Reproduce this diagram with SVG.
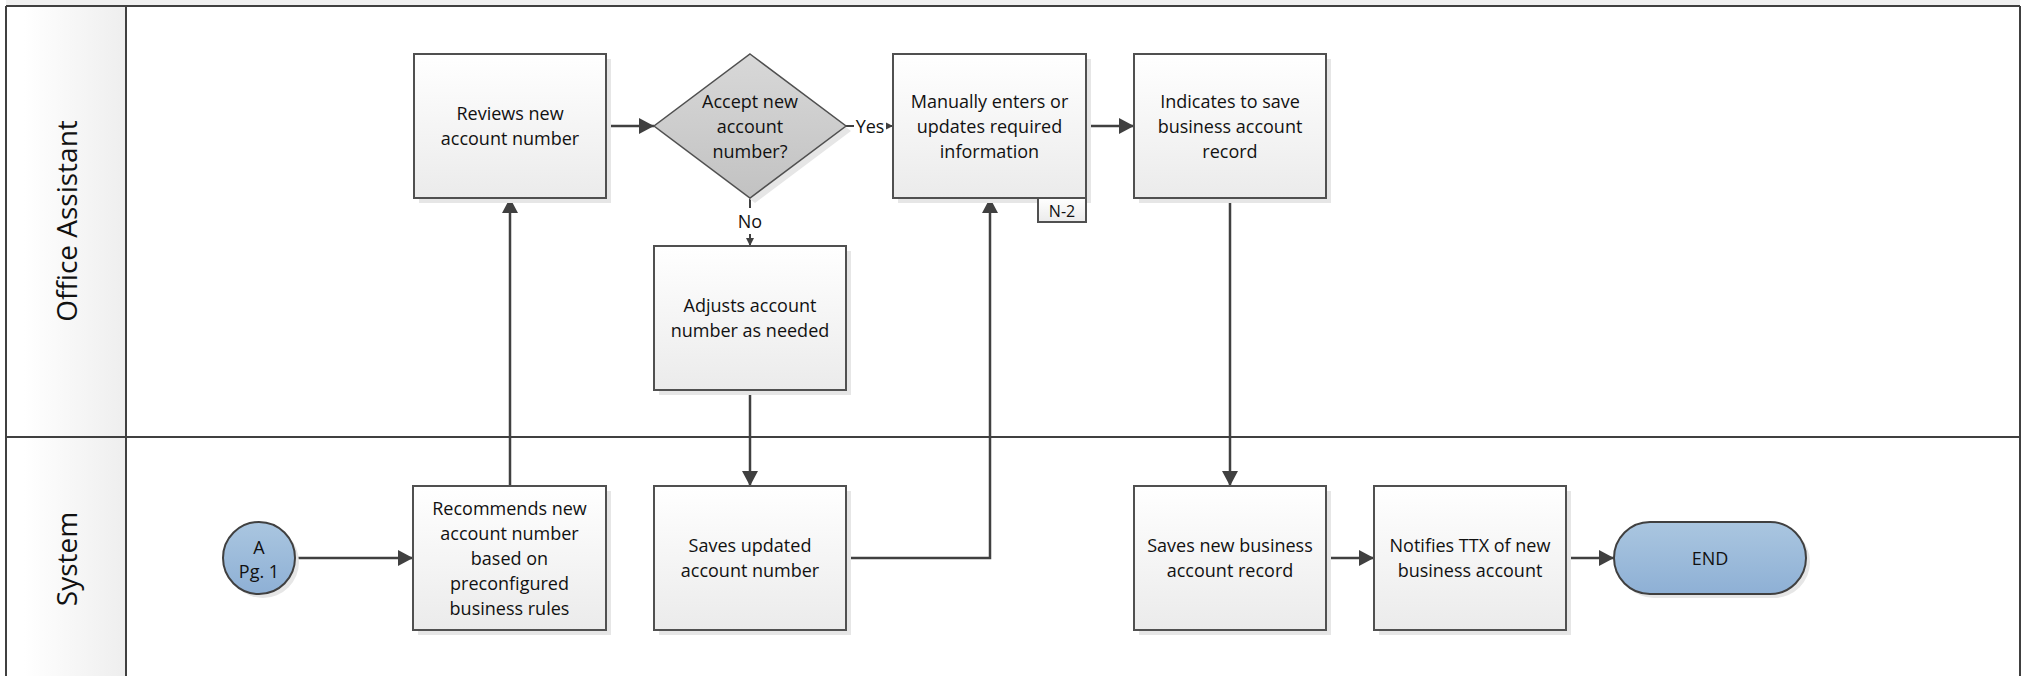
<svg xmlns="http://www.w3.org/2000/svg" width="2023" height="676" viewBox="0 0 2023 676">
<defs>
<linearGradient id="boxGrad" x1="0" y1="0" x2="0" y2="1"><stop offset="0" stop-color="#ffffff"/><stop offset="1" stop-color="#ebebeb"/></linearGradient>
<linearGradient id="diaGrad" x1="0" y1="0" x2="0" y2="1"><stop offset="0" stop-color="#d8d8d8"/><stop offset="1" stop-color="#c2c2c2"/></linearGradient>
<linearGradient id="blueGrad" x1="0" y1="0" x2="0" y2="1"><stop offset="0" stop-color="#aac6e0"/><stop offset="1" stop-color="#8eb0d5"/></linearGradient>
<linearGradient id="laneGrad" x1="0" y1="0" x2="1" y2="0"><stop offset="0.15" stop-color="#ffffff"/><stop offset="1" stop-color="#eeeeee"/></linearGradient>
<marker id="arr" markerUnits="userSpaceOnUse" markerWidth="16" markerHeight="18" refX="15" refY="8" orient="auto"><path d="M0,0 L15,8 L0,16 z" fill="#404040"/></marker>
<marker id="arrS" markerUnits="userSpaceOnUse" markerWidth="9" markerHeight="9" refX="8" refY="4" orient="auto"><path d="M0,0 L8,4 L0,8 z" fill="#404040"/></marker>
</defs>
<style>
.box{fill:url(#boxGrad);stroke:#505050;stroke-width:2}
.sh{fill:#e6e6e6}
.dia{fill:url(#diaGrad);stroke:#505050;stroke-width:1.5}
.blue{fill:url(#blueGrad);stroke:#404040;stroke-width:2}
.t{font-family:"Open Sans","Noto Sans",sans-serif;font-size:18px;fill:#111;text-anchor:middle}
.lane{font-family:"Open Sans","Noto Sans",sans-serif;font-size:28px;fill:#111;text-anchor:middle}
.border{fill:none;stroke:#404040;stroke-width:2}
.c{fill:none;stroke:#404040;stroke-width:2.5}
.cs{fill:none;stroke:#404040;stroke-width:2}
</style>
<rect x="0" y="0" width="2023" height="676" fill="#ffffff"/>
<g id="pool">
<rect x="6" y="0" width="2014" height="6" fill="#f0f0f0"/>
<rect x="6" y="6" width="120" height="680" fill="url(#laneGrad)"/>
<line x1="6" y1="6" x2="2020" y2="6" class="border"/>
<line x1="6" y1="6" x2="6" y2="680" class="border"/>
<line x1="2020" y1="6" x2="2020" y2="680" class="border"/>
<line x1="126" y1="6" x2="126" y2="680" class="border"/>
<line x1="6" y1="437" x2="2020" y2="437" class="border"/>
</g>
<g id="lane-office-assistant"><text class="lane" transform="translate(77,221) rotate(-90)">Office Assistant</text></g>
<g id="lane-system"><text class="lane" transform="translate(77,559) rotate(-90)">System</text></g>

<g id="connectors">
<path class="c" d="M510,486 L510,198" marker-end="url(#arr)"/>
<path class="c" d="M606,126 L654,126" marker-end="url(#arr)"/>
<path class="cs" d="M846,126 L893,126" marker-end="url(#arrS)"/>
<path class="cs" d="M750,198 L750,246" marker-end="url(#arrS)"/>
<path class="c" d="M750,390 L750,486" marker-end="url(#arr)"/>
<path class="c" d="M846,558 L990,558 L990,198" marker-end="url(#arr)"/>
<path class="c" d="M1086,126 L1134,126" marker-end="url(#arr)"/>
<path class="c" d="M1230,198 L1230,486" marker-end="url(#arr)"/>
<path class="c" d="M295,558 L413,558" marker-end="url(#arr)"/>
<path class="c" d="M1326,558 L1374,558" marker-end="url(#arr)"/>
<path class="c" d="M1566,558 L1614,558" marker-end="url(#arr)"/>
<rect x="854" y="114" width="32" height="24" fill="#ffffff"/>
<text class="t" x="870" y="133">Yes</text>
<rect x="736" y="208" width="28" height="26" fill="#ffffff"/>
<text class="t" x="750" y="228">No</text>
</g>

<g id="n-reviews">
<rect class="sh" x="419" y="59" width="192" height="144"/>
<rect class="box" x="414" y="54" width="192" height="144"/>
<text class="t" x="510" y="120">Reviews new</text>
<text class="t" x="510" y="145">account number</text>
</g>
<g id="n-decision">
<polygon class="sh" points="755,59 851,131 755,203 659,131"/>
<polygon class="dia" points="750,54 846,126 750,198 654,126"/>
<text class="t" x="750" y="107.5">Accept new</text>
<text class="t" x="750" y="132.5">account</text>
<text class="t" x="750" y="157.5">number?</text>
</g>
<g id="n-manually">
<rect class="sh" x="898" y="59" width="193" height="144"/>
<rect class="box" x="893" y="54" width="193" height="144"/>
<text class="t" x="989.5" y="107.5">Manually enters or</text>
<text class="t" x="989.5" y="132.5">updates required</text>
<text class="t" x="989.5" y="157.5">information</text>
<rect class="box" x="1038" y="198" width="48" height="24"/>
<text class="t" x="1062" y="217" style="font-size:16px">N-2</text>
</g>
<g id="n-indicates">
<rect class="sh" x="1139" y="59" width="192" height="144"/>
<rect class="box" x="1134" y="54" width="192" height="144"/>
<text class="t" x="1230" y="107.5">Indicates to save</text>
<text class="t" x="1230" y="132.5">business account</text>
<text class="t" x="1230" y="157.5">record</text>
</g>
<g id="n-adjusts">
<rect class="sh" x="659" y="251" width="192" height="144"/>
<rect class="box" x="654" y="246" width="192" height="144"/>
<text class="t" x="750" y="312">Adjusts account</text>
<text class="t" x="750" y="337">number as needed</text>
</g>
<g id="n-start">
<circle class="sh" cx="263" cy="562" r="36"/>
<circle class="blue" cx="259" cy="558" r="36"/>
<text class="t" x="259" y="554">A</text>
<text class="t" x="259" y="578">Pg. 1</text>
</g>
<g id="n-recommends">
<rect class="sh" x="418" y="491" width="193" height="144"/>
<rect class="box" x="413" y="486" width="193" height="144"/>
<text class="t" x="509.5" y="514.5">Recommends new</text>
<text class="t" x="509.5" y="539.5">account number</text>
<text class="t" x="509.5" y="564.5">based on</text>
<text class="t" x="509.5" y="589.5">preconfigured</text>
<text class="t" x="509.5" y="614.5">business rules</text>
</g>
<g id="n-saves-updated">
<rect class="sh" x="659" y="491" width="192" height="144"/>
<rect class="box" x="654" y="486" width="192" height="144"/>
<text class="t" x="750" y="552">Saves updated</text>
<text class="t" x="750" y="577">account number</text>
</g>
<g id="n-saves-new">
<rect class="sh" x="1139" y="491" width="192" height="144"/>
<rect class="box" x="1134" y="486" width="192" height="144"/>
<text class="t" x="1230" y="552">Saves new business</text>
<text class="t" x="1230" y="577">account record</text>
</g>
<g id="n-notifies">
<rect class="sh" x="1379" y="491" width="192" height="144"/>
<rect class="box" x="1374" y="486" width="192" height="144"/>
<text class="t" x="1470" y="552">Notifies TTX of new</text>
<text class="t" x="1470" y="577">business account</text>
</g>
<g id="n-end">
<rect class="sh" x="1618" y="526" width="192" height="72" rx="36" ry="36"/>
<rect class="blue" x="1614" y="522" width="192" height="72" rx="36" ry="36"/>
<text class="t" x="1710" y="564.5">END</text>
</g>
</svg>
